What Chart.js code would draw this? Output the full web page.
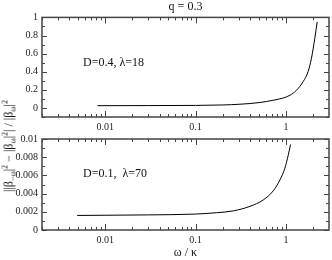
<!DOCTYPE html>
<html>
<head>
<meta charset="utf-8">
<script src="https://cdn.jsdelivr.net/npm/chart.js@4.4.1/dist/chart.umd.min.js"></script>
<style>
    body { margin: 0; background: #fff; width: 332px; height: 260px; position: relative; overflow: hidden; font-family: "Liberation Serif", serif; }
    canvas { position: absolute; left: 0; }
    #top-chart { top: 0; }
    #bot-chart { top: 125px; }
    #ylab {
        position: absolute; left: 9px; top: 146px;
        transform: translate(-50%, -50%) rotate(-90deg);
        white-space: nowrap; font-size: 12px; color: #111;
    }
    #ylab sub, #ylab sup { font-size: 8px; line-height: 0; }
</style>
</head>
<body>
<canvas id="top-chart" width="332" height="135"></canvas>
<canvas id="bot-chart" width="332" height="135"></canvas>
<div id="ylab">||β<sub>−ω</sub>|<sup>2</sup> − |β<sub>ω</sub>|<sup>2</sup>| / |β<sub>ω</sub>|<sup>2</sup></div>

<script>
// ================== Data ==================
const omegaTop = [0.0082, 0.03, 0.1, 0.2, 0.31, 0.516, 0.724, 0.934, 1.107, 1.31, 1.55, 1.76, 1.92, 2.09, 2.22];
const ratioTop = [0.025, 0.026, 0.028, 0.033, 0.041, 0.06, 0.085, 0.11, 0.14, 0.195, 0.29, 0.40, 0.55, 0.77, 0.95];

const omegaBot = [0.0049, 0.01, 0.03, 0.1, 0.171, 0.262, 0.4, 0.561, 0.724, 0.859, 0.975, 1.06, 1.127];
const ratioBot = [0.0016, 0.00162, 0.00166, 0.00175, 0.0019, 0.0021, 0.0026, 0.0033, 0.0043, 0.0055, 0.0068, 0.0082, 0.0094];

const xTickValues = [0.01, 0.1, 1];
const xTickLabels = ['0.01', '0.1', '1'];
const yTopTicks = [0, 0.2, 0.4, 0.6, 0.8, 1];
const yTopLabels = ['0', '0.2', '0.4', '0.6', '0.8', '1'];
const yBotTicks = [0, 0.002, 0.004, 0.006, 0.008, 0.01];
const yBotLabels = ['0', '0.002', '0.004', '0.006', '0.008', '0.01'];

const FONT = '"Liberation Serif", serif';
const INK = '#222';

// minor ticks on the log axis: 2..9 x 10^k
const xMinor = [];
for (let k = -3; k <= 0; k++) {
    for (let m = 2; m <= 9; m++) xMinor.push(+(m * Math.pow(10, k)).toPrecision(2));
}

// ================== inward ticks + frame ==================
const frameTicks = {
    id: 'frameTicks',
    afterDraw(chart, args, opts) {
        const { ctx, chartArea: a } = chart;
        const xs = chart.scales.x, ys = chart.scales.y;
        ctx.save();
        ctx.strokeStyle = '#444';
        ctx.lineWidth = 1;
        ctx.beginPath();
        const tx = (v, len) => {
            const p = Math.round(xs.getPixelForValue(v)) + 0.5;
            if (p < a.left || p > a.right) return;
            ctx.moveTo(p, a.bottom); ctx.lineTo(p, a.bottom - len);
            ctx.moveTo(p, a.top); ctx.lineTo(p, a.top + len);
        };
        xMinor.forEach(v => tx(v, 3));
        xTickValues.forEach(v => tx(v, 6));
        const ty = (v, len) => {
            const p = Math.round(ys.getPixelForValue(v)) + 0.5;
            ctx.moveTo(a.left, p); ctx.lineTo(a.left + len, p);
            ctx.moveTo(a.right, p); ctx.lineTo(a.right - len, p);
        };
        opts.major.forEach(v => ty(v, 5));
        opts.minor.forEach(v => ty(v, 3));
        ctx.stroke();
        ctx.lineWidth = 1.5;
        ctx.strokeRect(a.left, a.top, a.right - a.left, a.bottom - a.top);
        // annotation
        ctx.fillStyle = '#111';
        ctx.font = '12px ' + FONT;
        ctx.textBaseline = 'middle';
        ctx.fillText(opts.note, xs.getPixelForValue(opts.noteAt[0]), ys.getPixelForValue(opts.noteAt[1]));
        ctx.restore();
    }
};

function makeChart(el, xs, ys, cfg) {
    return new Chart(document.getElementById(el), {
        type: 'scatter',
        data: {
            datasets: [{
                data: xs.map((x, i) => ({ x: x, y: ys[i] })),
                showLine: true,
                borderColor: '#000',
                borderWidth: 1,
                pointRadius: 0,
                cubicInterpolationMode: 'monotone'
            }]
        },
        options: {
            responsive: false,
            animation: false,
            layout: { padding: { left: 0, right: 3, top: cfg.padTop, bottom: 0 } },
            plugins: {
                legend: { display: false },
                tooltip: { enabled: false },
                title: cfg.title,
                frameTicks: cfg.frame
            },
            scales: {
                x: {
                    type: 'logarithmic',
                    min: 0.002, max: 3,
                    grid: { display: false, drawTicks: false },
                    border: { display: false },
                    afterBuildTicks: s => { s.ticks = xTickValues.map(v => ({ value: v })); },
                    afterFit: s => { s.height = cfg.xHeight; },
                    ticks: {
                        autoSkip: false, maxRotation: 0, padding: 4,
                        color: INK, font: { family: FONT, size: 10 },
                        callback: (v, i) => xTickLabels[i]
                    },
                    title: cfg.xTitle
                },
                y: {
                    min: cfg.yMin, max: cfg.yMax,
                    grid: { display: false, drawTicks: false },
                    border: { display: false },
                    afterBuildTicks: s => { s.ticks = cfg.yTicks.map(v => ({ value: v })); },
                    afterFit: s => { s.width = 42; },
                    ticks: {
                        padding: 4, color: INK, font: { family: FONT, size: 10 },
                        callback: (v, i) => cfg.yLabels[i]
                    }
                }
            }
        },
        plugins: [frameTicks]
    });
}

// ================== Top panel (D=0.4) ==================
makeChart('top-chart', omegaTop, ratioTop, {
    padTop: 0,
    xHeight: 18,
    yMin: -0.1, yMax: 1,
    yTicks: yTopTicks, yLabels: yTopLabels,
    title: {
        display: true, text: 'q = 0.3', fullSize: false,
        color: '#111', font: { family: FONT, size: 12, weight: 'normal' },
        padding: { top: 0, bottom: 3 }
    },
    xTitle: { display: false },
    frame: {
        major: yTopTicks, minor: [-0.1, 0.1, 0.3, 0.5, 0.7, 0.9],
        note: 'D=0.4, λ=18', noteAt: [0.0057, 0.5]
    }
});

// ================== Bottom panel (D=0.1) ==================
makeChart('bot-chart', omegaBot, ratioBot, {
    padTop: 14,
    xHeight: 30,
    yMin: 0, yMax: 0.01,
    yTicks: yBotTicks, yLabels: yBotLabels,
    title: { display: false },
    xTitle: {
        display: true, text: 'ω / κ', color: '#111',
        font: { family: FONT, size: 12 }, padding: { top: 0, bottom: 0 }
    },
    frame: {
        major: yBotTicks, minor: [0.001, 0.003, 0.005, 0.007, 0.009],
        note: 'D=0.1,  λ=70', noteAt: [0.0057, 0.0062]
    }
});
</script>
</body>
</html>
